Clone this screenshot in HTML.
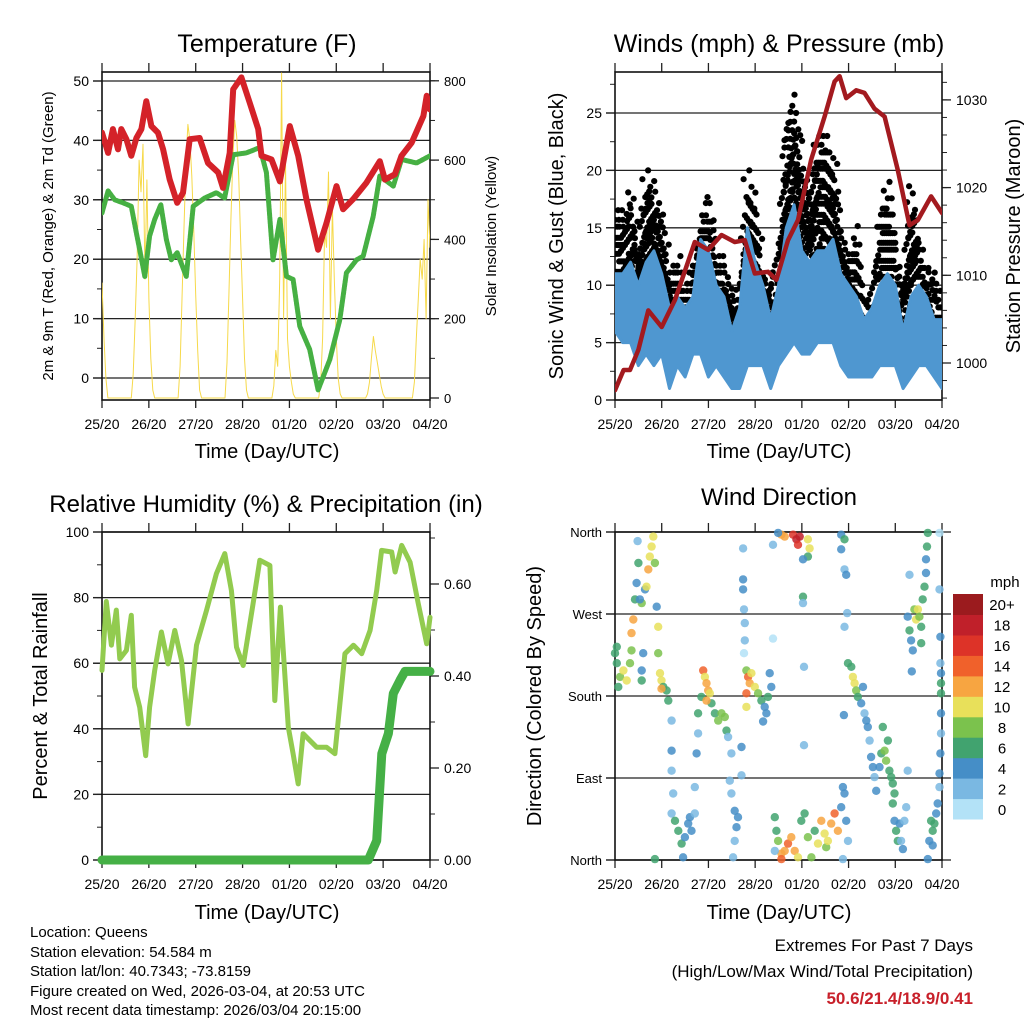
<!DOCTYPE html>
<html><head><meta charset="utf-8"><style>
html,body{margin:0;padding:0;background:#fff}
svg{display:block;font-family:"Liberation Sans",Arial,sans-serif}
</style></head><body>
<svg id="fig" width="1024" height="1024" viewBox="0 0 1024 1024" xmlns="http://www.w3.org/2000/svg">
<rect width="1024" height="1024" fill="#fff"/>
<text x="267" y="52" font-size="25" text-anchor="middle">Temperature (F)</text>
<text x="779" y="52" font-size="25" text-anchor="middle">Winds (mph) &amp; Pressure (mb)</text>
<text x="266" y="512" font-size="24" text-anchor="middle">Relative Humidity (%) &amp; Precipitation (in)</text>
<text x="779" y="505" font-size="24" text-anchor="middle">Wind Direction</text>
<text x="267" y="458" font-size="20" text-anchor="middle">Time (Day/UTC)</text>
<text x="779" y="458" font-size="20" text-anchor="middle">Time (Day/UTC)</text>
<text x="267" y="919" font-size="20" text-anchor="middle">Time (Day/UTC)</text>
<text x="779" y="919" font-size="20" text-anchor="middle">Time (Day/UTC)</text>
<text transform="translate(53,236) rotate(-90)" font-size="15" text-anchor="middle">2m &amp; 9m T (Red, Orange) &amp; 2m Td (Green)</text>
<text transform="translate(496,236) rotate(-90)" font-size="15" text-anchor="middle">Solar Insolation (Yellow)</text>
<text transform="translate(563,236) rotate(-90)" font-size="20" text-anchor="middle">Sonic Wind &amp; Gust (Blue, Black)</text>
<text transform="translate(1020,236) rotate(-90)" font-size="20" text-anchor="middle">Station Pressure (Maroon)</text>
<text transform="translate(47,696) rotate(-90)" font-size="20" text-anchor="middle">Percent &amp; Total Rainfall</text>
<text transform="translate(541,696) rotate(-90)" font-size="20" text-anchor="middle">Direction (Colored By Speed)</text>
<g font-size="15">
<text x="30" y="937">Location: Queens</text>
<text x="30" y="957">Station elevation: 54.584 m</text>
<text x="30" y="976">Station lat/lon: 40.7343; -73.8159</text>
<text x="30" y="996">Figure created on Wed, 2026-03-04, at 20:53 UTC</text>
<text x="30" y="1015">Most recent data timestamp: 2026/03/04 20:15:00</text>
</g>
<g font-size="17" text-anchor="end">
<text x="973" y="951">Extremes For Past 7 Days</text>
<text x="973" y="977">(High/Low/Max Wind/Total Precipitation)</text>
<text x="973" y="1004" fill="#c8202a" font-weight="bold">50.6/21.4/18.9/0.41</text>
</g>
<g id="layer"></g>
</svg>
<script>
// ---------- data ----------
const dayLabels = ["25/20","26/20","27/20","28/20","01/20","02/20","03/20","04/20"];
const tempT = [0,3.1,5.6,8.2,9.9,12.5,15,17.6,20.2,22.7,25.3,28.7,31.3,34.7,38.5,41.5,44.9,50,54.3,59.5,62,65.4,67.2,71.4,75.7,80,81.7,86.8,91.1,96.2,100.5,104.7,110.7,115,120.1,123.5,128.6,135.5,142.3,144.9,150,153.4,158.6,164.6,166.3,168];
const tempV = [41.3,37.9,41.9,38.5,41.9,40.2,37.4,40.4,41.9,46.6,42.4,41.3,38.5,33.4,29.5,31.2,40.2,40.4,36.2,34.6,32,37.9,48.6,50.6,46.3,41.9,37.4,36.8,33.1,42.4,37.4,30.1,21.6,26.1,32.3,28.4,30.1,32.9,36.5,33.4,34.3,37.4,39.6,44.1,47.5,45.2];
const dewT = [0,3.1,6.5,10.8,15,17.6,19.3,21.9,24.4,27,30.1,33,35.5,38.5,43.2,46.7,52.6,58.6,62.8,67.2,74,80.8,84.2,87.6,91.1,94.5,97.9,101.3,106.4,110.7,116.7,121.8,125.2,130.4,133.8,138.9,142.3,149.2,153.4,161.1,168];
const dewV = [27.8,31.5,30,29.5,28.9,24.4,21.6,17.1,23.9,26.7,29.2,23.3,19.9,21.1,17.1,28.9,30.3,31.2,30.3,37.6,37.9,38.8,34.6,19.9,26.7,17.1,16.6,8.7,4.8,-2,3.1,9.8,17.7,19.9,20.5,27.2,34,32.3,36.8,36.2,37.4];
const solarV = [290,150,50,0,0,0,0,0,0,0,0,0,0,0,0,
0,60,200,350,600,520,640,300,550,250,100,20,0, 0,0,0,0,0,0,0,0,0,0,0,
0,80,250,430,600,690,650,560,420,260,120,20,0, 0,0,0,0,0,0,0,0,0,0,0,
0,90,260,450,600,700,660,560,400,250,100,20,0, 0,0,0,0,0,0,0,0,0,0,0,
0,30,120,80,300,820,200,600,150,80,40,10,0, 0,0,0,0,0,0,0,0,0,0,0,
0,40,150,420,380,570,200,480,300,150,50,10,0, 0,0,0,0,0,0,0,0,0,0,0,
0,10,40,100,155,120,90,60,30,10,0,0,0, 0,0,0,0,0,0,0,0,0,0,0,
0,40,150,250,350,300,400,200,500,380];
const windT = [0,4,8,12,16,20,24,28,32,36,40,44,48,52,56,60,64,68,72,76,80,84,88,92,96,100,104,108,112,116,120,124,128,132,136,140,144,148,152,156,160,164,168];
const windLow = [6,5,5,3,4,3,4,1,3,2,4,4,2,3,2,1,1,3,3,3,1,3,4,5,4,4,5,5,5,3,2,2,2,2,3,3,3,1,2,3,3,2,1];
const windHigh = [11,11,12,10,12,13,11,8,9,8,9,14,13,10,9,6,8,15,12,10,7,10,15,17,13,12,13,13,14,11,10,9,7,8,10,11,10,6,9,10,9,7,7];
const gustLow = [9,9,10,6,8,9,7,5,5,5,5,8,8,5,5,3,4,8,7,6,4,8,10,13,11,9,11,11,10,8,6,6,5,5,7,7,7,4,6,7,7,5,5];
const gustHigh = [17,16,18.5,13,20.5,18,16.5,11,13,10,12,16,18,13,12,10,9,20,17,11,10,13,24,26.5,20,18,23,23,21,15,13,15,8,9,16,19,14,10,19,14,12,11,10];
const presT = [0,4.4,7.7,12,17.1,24,30.8,41,47.9,54.7,61.5,66.7,71.8,78.6,82.9,88.9,94,100.8,107.7,112.8,115.4,118.8,123.9,128.2,133.3,138.5,145.3,151.3,155.6,162.4,168];
const presV = [996.9,999.2,999.2,1001.5,1006,1004.1,1007.2,1013.8,1012.9,1014.6,1013.8,1014,1010.2,1010.4,1009.5,1014,1016.3,1023.2,1028.1,1032.1,1032.7,1030.2,1031.1,1030.8,1029,1028.1,1022,1015.7,1016.3,1019,1017.1];
const rhT = [0,2.2,4.8,7.3,9.1,12.5,15,16.7,19.3,22.4,24.4,27,30.4,33.8,37.3,40.7,44.1,48.4,53.5,58.6,62.9,66.3,68.9,72.3,77.4,80.8,86,88.5,91.4,95.4,97.9,100.5,103,109.9,115,119.3,124.4,128.8,133,137.3,140.7,143.2,148.4,150.1,153.5,157.8,162,166.3,168];
const rhV = [57.8,78.8,65.5,76.2,61.3,63.9,74.6,52.7,46.6,31.8,46.6,57.8,69.5,59.8,70,60.8,41.5,65.5,76.1,87.3,93.4,82.2,64.9,59.3,78.2,91.4,89.8,48.6,77.1,40.5,32.4,23.2,38.5,34.4,34.4,32.4,62.9,65.5,62.9,70,82.2,94.4,93.9,87.8,95.9,90.8,78.1,65.9,74];
const precT = [0,136.4,140.7,143.3,146.7,149.2,152.7,155.2,168];
const precV = [0,0,0.042,0.231,0.275,0.362,0.391,0.41,0.41];
const dirT = [0,0.9,2.6,4.3,6,7.7,8.5,1.7,0.9,
9.4,8.5,10.3,11.1,12,13.7,15.4,16.2,17.1,17.9,18.8,19.7,20.5,21.4,14.5,13.7,13.7,22.2,22.2,11.6,12.8,
23.1,23.9,24.8,26.5,27.4,23.9,
29.1,29.1,29.1,29.9,29.1,30.8,32.5,34.2,35.9,37.6,38.5,39.3,35,20.5,
41,41,41.9,42.7,42.7,44.4,45.3,46.2,47,47.9,48.7,49.6,51.3,53,54.7,56.4,57.3,47,
58.1,59.8,59,59.8,61.5,63.2,62.4,61.5,60.7,65,65,
65.8,65.8,65.8,66.3,66.7,66.7,66.3,67.5,68.4,69.2,70.1,71.8,73.5,67.5,67.5,75.2,76.9,77.8,78.6,79.5,80.3,76.1,81.2,81.2,
85.5,87.2,91.5,93.2,94,94.9,99.1,100,99.1,96.6,96.6,96.6,83.8,97.1,97.1,
82.1,82.9,83.8,85.5,87.2,88.9,90.6,92.3,94,95.7,97.4,99.1,100.9,102.6,104.3,106,107.7,108.5,109.4,111.1,112.8,114.5,116.2,117.9,117.1,118.8,119.7,117.1,82.1,85.5,
116.2,116.2,117.9,117.9,118.8,119.3,117.9,117.6,
119.7,121.4,122.2,123.1,123.9,124.8,126.5,127.4,128.2,129.1,
129.9,130.8,131.6,132.5,133.3,134.2,135.9,136.8,138.5,139.3,140.2,141,141.9,142.7,143.6,137.6,142.7,150.4,
143.6,144.4,145.3,146.2,147,147.9,148.7,149.6,
150.4,151.3,152.1,153,153.8,154.7,155.6,156.4,157.3,158.1,159,159.8,159.8,160.3,160.7,152.5,151.3,157.3,
161.5,162.4,163.2,164.1,165,165.8,166.7,166.7,167.2,167.5,167.5,167.5,167.5,167.5,167.2,167.2,166.7,166.7,160.7,163.2];
const dirDeg = [227,216,201,208,197,216,230,190,234,
264,249,286,304,326,282,297,300,319,333,344,355,326,278,227,208,197,256,227,350,286,
205,197,190,186,175,188,
153,120,98,73,51,43,32,18,25,40,47,32,3,1,
51,80,117,139,161,179,208,201,194,186,183,172,161,153,161,157,142,175,
135,117,87,73,54,47,36,21,3,124,93,
342,308,297,275,260,241,227,208,201,194,205,190,183,183,168,175,168,161,179,205,190,152,346,243,
357,355,357,352,346,355,352,342,333,330,289,282,359,212,126,
47,32,21,7,10,18,25,10,3,43,51,25,3,32,18,43,29,14,21,40,51,32,58,73,80,43,21,1,10,1,
357,341,352,319,313,271,256,159,
216,212,201,194,186,179,172,190,161,153,
146,131,113,102,91,76,102,117,120,109,131,98,91,84,73,146,62,98,
43,32,21,40,21,12,43,58,
267,252,241,230,275,264,275,267,256,286,300,315,330,344,359,207,313,238,
21,43,32,40,51,62,80,95,117,139,161,183,194,205,216,245,297,359,1,16];
const dirSpd = [7,6,9,10,10,9,8,7,6,
12,13,6,5,7,8,5,10,12,10,11,10,8,4,5,4,6,10,9,3,5,
10,10,7,6,7,12,
3,4,2,3,2,6,6,6,4,4,4,5,4,6,
3,3,4,3,6,6,15,10,12,13,11,7,6,8,8,8,7,12,
3,2,2,3,4,4,4,2,3,4,3,
3,4,4,2,2,2,1,9,15,13,10,10,8,14,10,6,5,4,6,4,4,4,2,1,
12,13,16,18,16,19,10,11,6,4,6,3,4,3,3,
6,7,8,12,13,14,12,13,11,6,6,8,9,6,10,12,11,9,10,12,14,12,5,4,4,4,3,3,3,15,
4,4,6,3,4,3,2,4,
7,7,10,10,8,6,4,4,3,4,
4,3,4,4,3,4,5,6,9,8,6,6,7,7,6,6,6,2,
5,6,6,4,3,4,2,2,
5,6,4,4,9,10,11,8,7,7,6,4,4,6,6,4,2,6,
5,6,7,6,4,4,3,4,4,3,4,6,6,4,2,4,2,1,4,4];
const cbLabels = ["0","2","4","6","8","10","12","14","16","18","20+"];
const cbColors = ["#b3e2f7","#7ab8e2","#458ec7","#41a36f","#7bc24d","#e8e05a","#f7a541","#f0612b","#dd3328","#c0202a","#9b1b1e"];
const tempTicks = [0,10,20,30,40,50];
const solarTicks = [0,200,400,600,800];
const windTicks = [0,5,10,15,20,25];
const presTicks = [1000,1010,1020,1030];
const rhTicks = [0,20,40,60,80,100];
const precTicks = [0,0.2,0.4,0.6];
const dirTicks = [0,90,180,270,360];
const dirNames = ["North","East","South","West","North"];

// ---------- scales ----------
const NS="http://www.w3.org/2000/svg";
const layer=document.getElementById('layer');
function el(tag,attrs,parent){const e=document.createElementNS(NS,tag);for(const k in attrs)e.setAttribute(k,attrs[k]);(parent||layer).appendChild(e);return e;}
const P1={L:102,R:430,T:72,B:400}, P2={L:615,R:942,T:72,B:400}, P3={L:102,R:430,T:532,B:860}, P4={L:615,R:942,T:532,B:860};
const xS=(P,t)=>P.L+t/168*(P.R-P.L);
const yTemp=v=>378-v*5.94, ySol=v=>398-v*0.3965;
const yWind=v=>400-v*11.48, yPres=p=>363-(p-1000)*8.77;
const yRH=v=>860-v*3.28, yPrec=v=>860-v*460;
const yDir=d=>860-d*(328/360);

function clipFor(P,id){const cp=el('clipPath',{id:id});el('rect',{x:P.L,y:P.T,width:P.R-P.L,height:P.B-P.T},cp);return 'url(#'+id+')';}

function frame(P,name,leftTicks,leftFn,leftFmt,leftMinor,rightTicks,rightFn,rightFmt,rightMinor,lfs,rfs,gridTicks){
  const g=el('g',{});
  
  
  gridTicks.forEach(v=>{const y=leftFn(v);if(y>=P.T-1&&y<=P.B+1){const ln=el('line',{x1:P.L-9,x2:P.R,y1:y,y2:y,stroke:'#222','stroke-width':1.3},g);}});
  leftMinor.forEach(v=>{const y=leftFn(v);if(y>=P.T&&y<=P.B)el('line',{x1:P.L-5,x2:P.L,y1:y,y2:y,stroke:'#222','stroke-width':1},g);});
  leftTicks.forEach(v=>{const y=leftFn(v);el('line',{x1:P.L-9,x2:P.L,y1:y,y2:y,stroke:'#222','stroke-width':1.3},g);const t=el('text',{x:P.L-13,y:y+5,'font-size':lfs,'text-anchor':'end'},g);t.textContent=leftFmt(v);});
  rightMinor.forEach(v=>{const y=rightFn(v);if(y>=P.T&&y<=P.B)el('line',{x1:P.R,x2:P.R+5,y1:y,y2:y,stroke:'#222','stroke-width':1},g);});
  rightTicks.forEach(v=>{const y=rightFn(v);el('line',{x1:P.R,x2:P.R+9,y1:y,y2:y,stroke:'#222','stroke-width':1.3},g);if(rightFmt){const t=el('text',{x:P.R+14,y:y+5,'font-size':rfs},g);t.textContent=rightFmt(v);}});
  dayLabels.forEach((d,i)=>{const x=xS(P,i*24);el('line',{x1:x,x2:x,y1:P.B,y2:P.B+8,stroke:'#222','stroke-width':1.3},g);el('line',{x1:x,x2:x,y1:P.T-9,y2:P.T,stroke:'#222','stroke-width':1.3},g);const t=el('text',{x:x,y:P.B+29,'font-size':14,'text-anchor':'middle'},g);t.textContent=d;});
  const box=el('rect',{x:P.L,y:P.T,width:P.R-P.L,height:P.B-P.T,fill:'none',stroke:'#111','stroke-width':1.6},g);
  
}
const rng=(a,b,s)=>{const r=[];for(let v=a;v<=b+1e-9;v+=s)r.push(+v.toFixed(3));return r;};
function poly(P,ts,vs,yf,attrs,name,clip){const pts=ts.map((t,i)=>xS(P,t).toFixed(1)+','+yf(vs[i]).toFixed(1)).join(' ');const p=el('polyline',Object.assign({points:pts,fill:'none','stroke-linejoin':'round','stroke-linecap':'round','clip-path':clip},attrs));return p;}

// ---------- Panel 1 ----------
const c1=clipFor(P1,'c1');
frame(P1,'temperature',tempTicks,yTemp,v=>String(v),rng(-5,55,5),solarTicks,ySol,v=>String(v),rng(0,800,100),14,13,tempTicks);
poly(P1,solarV.map((v,i)=>i),solarV,ySol,{stroke:'#f6d94a','stroke-width':1},'solar-line',c1);
poly(P1,dewT,dewV,yTemp,{stroke:'#46b043','stroke-width':5,'stroke-dasharray':'3 1.2'},'dewpoint-line',c1);
poly(P1,tempT,tempV,yTemp,{stroke:'#d42229','stroke-width':6},'temperature-line',c1);

// ---------- Panel 2 ----------
const c2=clipFor(P2,'c2');
frame(P2,'winds',windTicks,yWind,v=>String(v),rng(0,28,2.5),presTicks,yPres,v=>String(v),rng(996,1032,2),14,14,windTicks);
const gg=el('g',{'clip-path':c2});

const jit=[0,1.4,-1.1,0.6,-0.4,1.9,-1.7,0.9,-0.8,0.2];
for(let i=0;i<windT.length;i++){
  const nK=(i<windT.length-1)?4:1;
  for(let k=0;k<nK;k++){
    const f=k/4, j=Math.min(i+1,windT.length-1);
    const t=windT[i]+f*(windT[j]-windT[i]);
    const lo=gustLow[i]+f*(gustLow[j]-gustLow[i]);
    const hi=(gustHigh[i]+f*(gustHigh[j]-gustHigh[i]))-(k%2)*1.5;
    let n=0;
    for(let v=lo;v<=hi;v+=0.75){n++;const x=xS(P2,t)+jit[n%10]*2.2;const c=el('circle',{cx:x.toFixed(1),cy:(yWind(v)+jit[(n+3)%10]).toFixed(1),r:3.1,fill:'#000'},gg);}
  }
}
{const top=windT.map((t,i)=>xS(P2,t).toFixed(1)+','+yWind(windHigh[i]).toFixed(1));
 const bot=windT.map((t,i)=>xS(P2,t).toFixed(1)+','+yWind(windLow[i]).toFixed(1)).reverse();
 const b=el('polygon',{points:top.concat(bot).join(' '),fill:'#4f97d0',stroke:'#4f97d0','stroke-width':3,'stroke-linejoin':'round','clip-path':c2});
 }
poly(P2,presT,presV,yPres,{stroke:'#a31a1f','stroke-width':4.5},'pressure-line',c2);

// ---------- Panel 3 ----------
const c3=clipFor(P3,'c3');
frame(P3,'humidity',rhTicks,yRH,v=>String(v),rng(0,100,10),precTicks,yPrec,v=>v.toFixed(2),rng(0,0.7,0.1),14,14,rhTicks);
poly(P3,rhT,rhV,yRH,{stroke:'#92cb4f','stroke-width':5},'humidity-line',null);
poly(P3,precT,precV,yPrec,{stroke:'#45b046','stroke-width':9},'precipitation-line',null);

// ---------- Panel 4 ----------
frame(P4,'direction',dirTicks,yDir,v=>dirNames[dirTicks.indexOf(v)],[],dirTicks,yDir,null,[],13,13,dirTicks);
const dg=el('g',{});

dirT.forEach((t,i)=>{const bin=Math.min(10,Math.floor(dirSpd[i]/2));const c=el('circle',{cx:xS(P4,t).toFixed(1),cy:yDir(dirDeg[i]).toFixed(1),r:4.2,fill:cbColors[bin],'fill-opacity':0.85},dg);});
// colorbar
const cb=el('g',{});

const cbT=594,cbH=225/11;
cbColors.forEach((c,i)=>{const y=cbT+(10-i)*cbH;const r=el('rect',{x:953,y:y.toFixed(1),width:30,height:(cbH+0.5).toFixed(1),fill:c},cb);const t=el('text',{x:1002,y:(y+cbH/2+6).toFixed(1),'font-size':15,'text-anchor':'middle'},cb);t.textContent=cbLabels[i];});
const mph=el('text',{x:1005,y:587,'font-size':15,'text-anchor':'middle'},cb);mph.textContent='mph';


</script>
</body></html>
